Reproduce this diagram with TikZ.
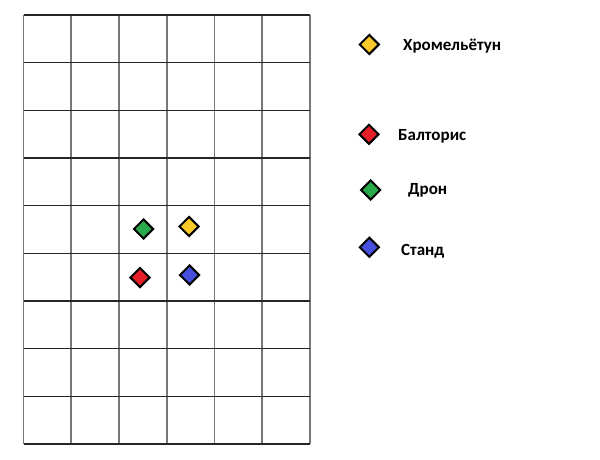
\documentclass[tikz,border=0pt]{standalone}
\usepackage{fontspec}
\setmainfont{Carlito}
\usetikzlibrary{shapes.geometric}
\definecolor{myyellow}{RGB}{250,200,40}
\definecolor{mygreen}{RGB}{40,170,75}
\definecolor{myred}{RGB}{230,30,40}
\definecolor{myblue}{RGB}{70,80,220}
\definecolor{vgray}{RGB}{120,120,120}
\tikzset{
  gem/.style={diamond, draw=black, line width=2pt, minimum width=20pt, minimum height=20pt, inner sep=0pt},
  legtext/.style={anchor=west, font=\bfseries\fontsize{17}{20}\selectfont, inner sep=0pt},
}
\begin{document}
\begin{tikzpicture}[x=1pt,y=-1pt]
\useasboundingbox[fill=white] (0,0) rectangle (600,460);
% vertical lines
\foreach \i in {0,...,6} {
  \draw[vgray, line width=1.6pt] ({23.5+\i*47.75},15) -- ({23.5+\i*47.75},444);
}
% horizontal lines
\foreach \j in {0,...,9} {
  \draw[black!85, line width=1.6pt] (23.5,{15+\j*47.67}) -- (310,{15+\j*47.67});
}
% markers on the grid
\node[gem, fill=mygreen] (g) at (143.5,229) {};
\node[gem, fill=myyellow] (y) at (189,226.5) {};
\node[gem, fill=myred] (r) at (140,277.5) {};
\node[gem, fill=myblue] (b) at (189.5,275) {};
% legend
\node[gem, fill=myyellow] (ly) at (369.3,44.5) {};
\node[legtext] (ty) at (403,46.5) {Хромельётун};
\node[gem, fill=myred] (lr) at (369,134.3) {};
\node[legtext] (tr) at (398,136) {Балторис};
\node[gem, fill=mygreen] (lg) at (370.7,190) {};
\node[legtext] (tg) at (408,190.5) {Дрон};
\node[gem, fill=myblue] (lb) at (369.3,247.3) {};
\node[legtext] (tb) at (401,251) {Станд};
\end{tikzpicture}
\end{document}
